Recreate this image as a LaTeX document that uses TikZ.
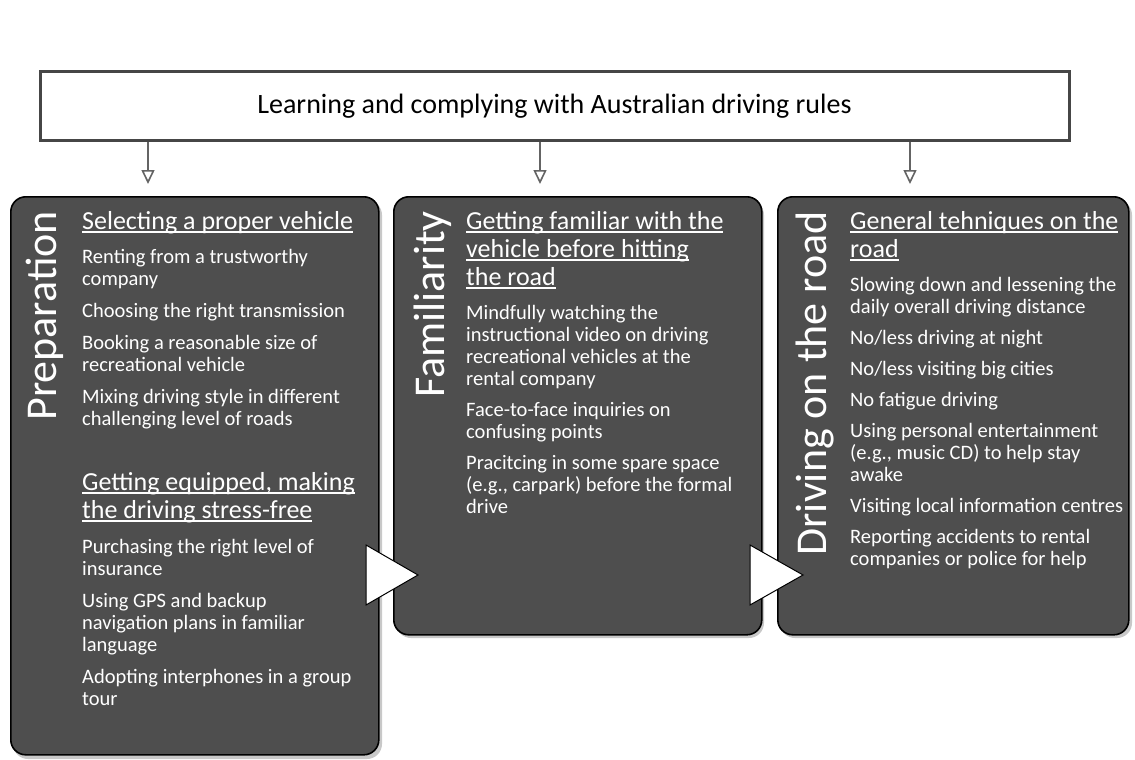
\documentclass[tikz,border=0pt]{standalone}
\usepackage{fontspec}
\setmainfont{Carlito}
\usetikzlibrary{arrows.meta}
\definecolor{panelgray}{RGB}{78,78,78}
\definecolor{boxedge}{RGB}{70,70,70}
\definecolor{connc}{RGB}{100,100,100}
\definecolor{shadowc}{RGB}{200,200,200}
\newcommand\myul[1]{\setbox0\hbox{#1}\rlap{\rule[-3.5pt]{\wd0}{1.6pt}}\box0}
\begin{document}
\begin{tikzpicture}[x=1pt,y=-1pt,
  panel/.style={draw=black, line width=1.6pt, fill=panelgray, rounded corners=15pt, anchor=north west, inner sep=0pt},
  pshadow/.style={fill=shadowc, rounded corners=15pt},
  topbox/.style={draw=boxedge, line width=3pt, fill=white, inner sep=0pt, font=\fontsize{28}{30}\selectfont, text=black},
  conn/.style={draw=connc, line width=2.6pt, -{Triangle[open, length=14pt, width=13pt, line width=1.6pt, fill=white]}},
  head/.style={font=\fontsize{26}{28}\selectfont, text=white, align=left, anchor=north west, inner sep=0pt},
  body/.style={font=\fontsize{20.5}{22}\selectfont, text=white, align=left, anchor=north west, inner sep=0pt},
  vtitle/.style={rotate=90, font=\fontsize{44}{46}\selectfont, text=white, inner sep=0pt, anchor=east},
  wtri/.style={fill=white, draw=black, line width=1pt, line join=miter}
]
\useasboundingbox (0,0) rectangle (1135,760);

% top box
\node[topbox, minimum width=1029pt, minimum height=68pt] (rules) at (554.5,106)
  {Learning and complying with Australian driving rules};

% shadows
\fill[pshadow] (13,200) rectangle (382,759);
\fill[pshadow] (396,200) rectangle (764,638);
\fill[pshadow] (780,200) rectangle (1132,638);

% panels
\node[panel, minimum width=368pt, minimum height=558pt] (p1) at (10,196) {};
\node[panel, minimum width=368pt, minimum height=438pt] (p2) at (393,196) {};
\node[panel, minimum width=351pt, minimum height=438pt] (p3) at (777,196) {};

% connectors
\coordinate (c1) at (148,184);
\coordinate (c2) at (540,184);
\coordinate (c3) at (910,184);
\draw[conn] (rules.south -| c1) -- (c1);
\draw[conn] (rules.south -| c2) -- (c2);
\draw[conn] (rules.south -| c3) -- (c3);

% vertical titles
\node[vtitle] (t1) at (45,211) {Preparation};
\node[vtitle] (t2) at (433,211) {Familiarity};
\node[vtitle] (t3) at (815,211) {Driving on the road};

% panel 1 text
\node[head] (h1) at (82,211) {\myul{Selecting a proper vehicle}};
\node[body] (b1) at (82,249) {Renting from a trustworthy\\company\\[10pt]Choosing the right transmission\\[10pt]Booking a reasonable size of\\recreational vehicle\\[10pt]Mixing driving style in different\\challenging level of roads};
\node[head] (h2) at (82,472) {\myul{Getting equipped, making}\\\myul{the driving stress-free}};
\node[body] (b2) at (82,539) {Purchasing the right level of\\insurance\\[10pt]Using GPS and backup\\navigation plans in familiar\\language\\[10pt]Adopting interphones in a group\\tour};

% panel 2 text
\node[head] (h3) at (466,211) {\myul{Getting familiar with the}\\\myul{vehicle before hitting}\\\myul{the road}};
\node[body] (b3) at (466,305) {Mindfully watching the\\instructional video on driving\\recreational vehicles at the\\rental company\\[9pt]Face-to-face inquiries on\\confusing points\\[9pt]Pracitcing in some spare space\\(e.g., carpark) before the formal\\drive};

% panel 3 text
\node[head] (h4) at (850,211) {\myul{General tehniques on the}\\\myul{road}};
\node[body] (b4) at (850,277) {Slowing down and lessening the\\daily overall driving distance\\[9pt]No/less driving at night\\[9pt]No/less visiting big cities\\[9pt]No fatigue driving\\[9pt]Using personal entertainment\\(e.g., music CD) to help stay\\awake\\[9pt]Visiting local information centres\\[9pt]Reporting accidents to rental\\companies or police for help};

% white transition triangles
\filldraw[wtri] (366,545) -- (418,575) -- (366,605) -- cycle;
\filldraw[wtri] (750,545) -- (803,575) -- (750,605) -- cycle;
\end{tikzpicture}
\end{document}
